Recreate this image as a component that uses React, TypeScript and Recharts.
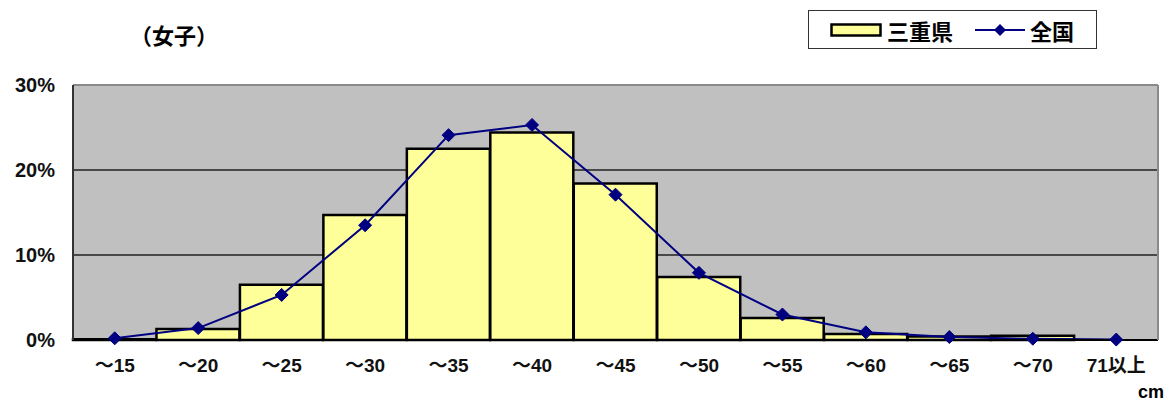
import React from "react";
import {
  Bar,
  CartesianGrid,
  ComposedChart,
  Line,
  ReferenceLine,
  XAxis,
  YAxis,
} from "recharts";

const categories = ["～15", "～20", "～25", "～30", "～35", "～40", "～45", "～50", "～55", "～60", "～65", "～70", "71以上"];
const mie = [0.1, 1.3, 6.5, 14.7, 22.5, 24.4, 18.4, 7.4, 2.6, 0.7, 0.4, 0.5, 0];
const national = [0.2, 1.4, 5.3, 13.5, 24.1, 25.3, 17.1, 7.9, 3.0, 0.9, 0.35, 0.15, 0.05];
const yTicks = [0, 10, 20, 30];

const data = categories.map((name, i) => ({ name, mie: mie[i], national: national[i] }));

const FONT = '"Liberation Sans", Arial, "Noto Sans CJK JP", sans-serif';
const NAVY = "#000080";
const YELLOW = "#FFFF99";

function Diamond(props: any) {
  const { cx, cy, index } = props;
  if (cx == null || cy == null) return <g key={index} />;
  const r = 6.5;
  return (
    <path
      key={index}
      d={`M${cx},${cy - r}L${cx + r},${cy}L${cx},${cy + r}L${cx - r},${cy}Z`}
      fill={NAVY}
      stroke={NAVY}
    />
  );
}

export default function App() {
  return (
    <div style={{ position: "absolute", left: 0, top: 0, width: 1165, height: 401, fontFamily: FONT, background: "#fff" }}>
      <div
        style={{
          position: "absolute",
          left: 130,
          top: 19,
          fontSize: 22,
          fontWeight: "bold",
          lineHeight: "30px",
          fontFamily: '"Noto Sans CJK JP", sans-serif',
        }}
      >
        （女子）
      </div>

      <div
        style={{
          position: "absolute",
          left: 808,
          top: 10,
          width: 287,
          height: 37,
          border: "1.5px solid #333",
          background: "#fff",
          display: "flex",
          alignItems: "center",
          fontFamily: '"Noto Sans CJK JP", sans-serif',
          fontSize: 22,
          fontWeight: "bold",
          zIndex: 2,
        }}
      >
        <svg width={52} height={14} style={{ marginLeft: 21 }}>
          <rect x={1.5} y={1.5} width={49} height={11} fill={YELLOW} stroke="#000" strokeWidth={2.5} />
        </svg>
        <span style={{ marginLeft: 5 }}>三重県</span>
        <svg width={50} height={14} style={{ marginLeft: 22 }}>
          <line x1={0} y1={7} x2={50} y2={7} stroke={NAVY} strokeWidth={2} />
          <path d="M25,1L31,7L25,13L19,7Z" fill={NAVY} />
        </svg>
        <span style={{ marginLeft: 5 }}>全国</span>
      </div>

      <ComposedChart
        width={1165}
        height={401}
        data={data}
        margin={{ top: 85, right: 0, bottom: 0, left: 0 }}
        barCategoryGap={0}
        style={{ fontFamily: FONT }}
      >
        <CartesianGrid
          vertical={false}
          fill="#C0C0C0"
          fillOpacity={1}
          stroke="#222"
          strokeWidth={1.3}
          horizontalValues={[10, 20]}
        />
        <ReferenceLine y={30} stroke="#8a8a8a" strokeWidth={2} />
        <XAxis
          dataKey="name"
          height={61}
          tickLine={false}
          tickSize={0}
          tickMargin={19}
          axisLine={{ stroke: "#000", strokeWidth: 2 }}
          tick={{ fill: "#111", fontSize: 19, fontFamily: FONT, fontWeight: "bold" }}
          interval={0}
        />
        <YAxis
          width={73}
          domain={[0, 30]}
          ticks={yTicks}
          tickFormatter={(v: number) => `${v}%`}
          tickLine={false}
          tickSize={0}
          tickMargin={18}
          axisLine={{ stroke: "#333", strokeWidth: 2 }}
          tick={{ fill: "#111", fontSize: 20, fontFamily: FONT, fontWeight: "bold" }}
        />
        <YAxis
          yAxisId="right"
          orientation="right"
          width={7}
          domain={[0, 30]}
          tick={false}
          tickLine={false}
          axisLine={{ stroke: "#8a8a8a", strokeWidth: 2 }}
        />
        <Bar dataKey="mie" fill={YELLOW} stroke="#000" strokeWidth={2.5} isAnimationActive={false} />
        <Line
          dataKey="national"
          type="linear"
          stroke={NAVY}
          strokeWidth={2}
          dot={Diamond}
          activeDot={false}
          isAnimationActive={false}
        />
      </ComposedChart>

      <div style={{ position: "absolute", left: 1138, top: 381, fontSize: 18, lineHeight: "22px", fontWeight: "bold" }}>cm</div>
    </div>
  );
}
